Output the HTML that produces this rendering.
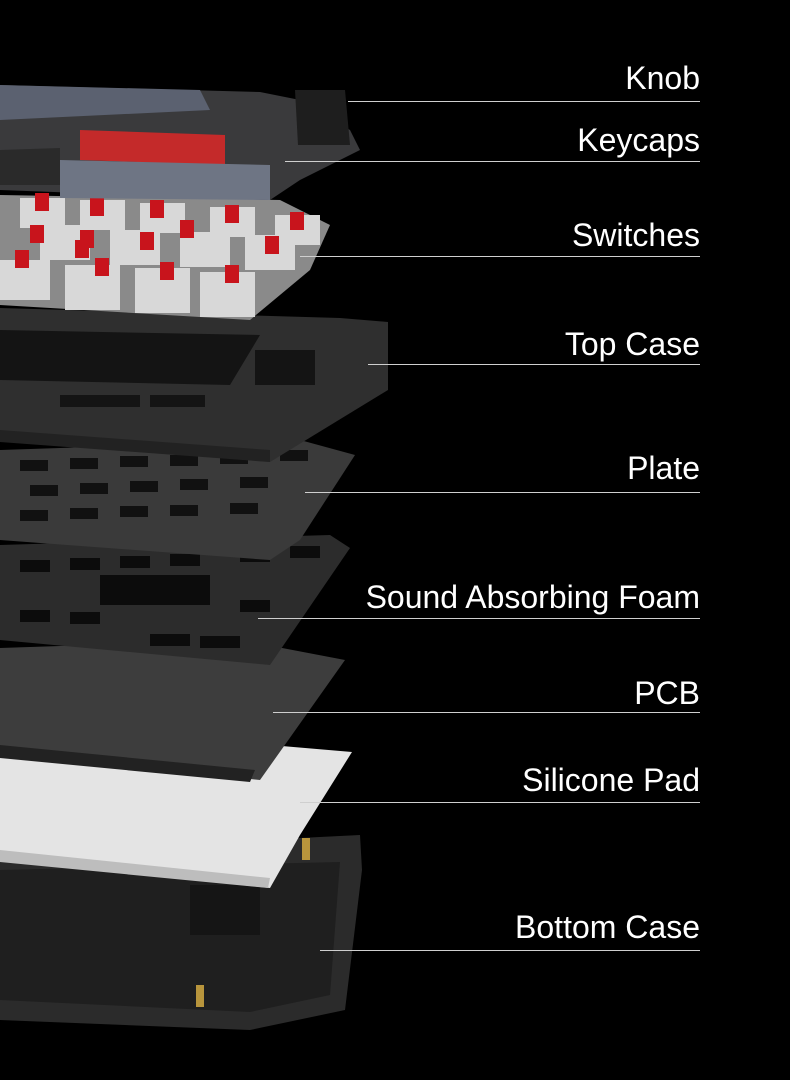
<!DOCTYPE html>
<html><head><style>
html,body{margin:0;padding:0;background:#000;}
.w{position:relative;width:790px;height:1080px;overflow:hidden;background:#000;font-family:"Liberation Sans",sans-serif;}
.l{position:absolute;right:90px;color:#fff;font-size:32px;line-height:32px;white-space:nowrap;}
.ln{position:absolute;height:1px;background:#cfcfcf;}
</style></head><body><div class="w">
<svg width="790" height="1080" style="position:absolute;left:0;top:0">
<!-- bottom case -->
<polygon points="0,845 300,838 360,835 362,870 345,1010 250,1030 0,1020" fill="#2b2b2b"/>
<polygon points="0,870 340,862 330,995 250,1012 0,1000" fill="#1f1f1f"/>
<rect x="190" y="885" width="70" height="50" fill="#151515"/>
<rect x="302" y="838" width="8" height="22" fill="#b8953c"/>
<rect x="196" y="985" width="8" height="22" fill="#b8953c"/>
<!-- silicone pad -->
<polygon points="0,755 270,745 352,752 300,835 270,888 0,860" fill="#e4e4e4"/>
<polygon points="0,850 270,878 268,888 0,862" fill="#bdbdbd"/>
<!-- PCB -->
<polygon points="0,648 240,640 345,660 260,780 0,752" fill="#3d3d3d"/>
<polygon points="0,745 255,770 250,782 0,758" fill="#222"/>
<!-- foam -->
<polygon points="0,545 330,535 350,548 270,665 0,640" fill="#2c2c2c"/>
<g fill="#0c0c0c">
<rect x="20" y="560" width="30" height="12"/><rect x="70" y="558" width="30" height="12"/><rect x="120" y="556" width="30" height="12"/><rect x="170" y="554" width="30" height="12"/><rect x="240" y="550" width="30" height="12"/><rect x="290" y="546" width="30" height="12"/>
<rect x="100" y="575" width="110" height="30"/>
<rect x="20" y="610" width="30" height="12"/><rect x="70" y="612" width="30" height="12"/><rect x="150" y="634" width="40" height="12"/><rect x="200" y="636" width="40" height="12"/><rect x="240" y="600" width="30" height="12"/>
</g>
<!-- plate -->
<polygon points="0,450 300,440 355,455 300,540 270,560 0,540" fill="#3a3a3a"/>
<g fill="#111">
<rect x="20" y="460" width="28" height="11"/><rect x="70" y="458" width="28" height="11"/><rect x="120" y="456" width="28" height="11"/><rect x="170" y="455" width="28" height="11"/><rect x="220" y="453" width="28" height="11"/><rect x="280" y="450" width="28" height="11"/>
<rect x="30" y="485" width="28" height="11"/><rect x="80" y="483" width="28" height="11"/><rect x="130" y="481" width="28" height="11"/><rect x="180" y="479" width="28" height="11"/><rect x="240" y="477" width="28" height="11"/>
<rect x="20" y="510" width="28" height="11"/><rect x="70" y="508" width="28" height="11"/><rect x="120" y="506" width="28" height="11"/><rect x="170" y="505" width="28" height="11"/><rect x="230" y="503" width="28" height="11"/>
</g>
<!-- top case -->
<polygon points="0,308 340,318 388,322 388,390 270,462 0,440" fill="#2f2f2f"/>
<polygon points="0,330 260,335 230,385 0,380" fill="#141414"/>
<rect x="255" y="350" width="60" height="35" fill="#141414"/>
<rect x="60" y="395" width="80" height="12" fill="#141414"/><rect x="150" y="395" width="55" height="12" fill="#141414"/>
<polygon points="0,430 270,450 270,462 0,442" fill="#222"/>
<!-- switches -->
<polygon points="0,195 280,200 330,225 310,270 250,320 0,305" fill="#8a8a8a"/>
<g fill="#d8d8d8">
<rect x="0" y="260" width="50" height="40"/><rect x="65" y="265" width="55" height="45"/><rect x="135" y="268" width="55" height="45"/><rect x="200" y="272" width="55" height="45"/>
<rect x="40" y="225" width="50" height="35"/><rect x="110" y="230" width="50" height="35"/><rect x="180" y="232" width="50" height="35"/><rect x="245" y="235" width="50" height="35"/>
<rect x="20" y="198" width="45" height="30"/><rect x="80" y="200" width="45" height="30"/><rect x="140" y="203" width="45" height="30"/><rect x="210" y="207" width="45" height="30"/><rect x="275" y="215" width="45" height="30"/>
</g>
<g fill="#c8141c">
<rect x="35" y="193" width="14" height="18"/><rect x="90" y="198" width="14" height="18"/><rect x="150" y="200" width="14" height="18"/><rect x="225" y="205" width="14" height="18"/><rect x="290" y="212" width="14" height="18"/>
<rect x="30" y="225" width="14" height="18"/><rect x="80" y="230" width="14" height="18"/><rect x="140" y="232" width="14" height="18"/><rect x="180" y="220" width="14" height="18"/><rect x="265" y="236" width="14" height="18"/>
<rect x="15" y="250" width="14" height="18"/><rect x="75" y="240" width="14" height="18"/><rect x="95" y="258" width="14" height="18"/><rect x="160" y="262" width="14" height="18"/><rect x="225" y="265" width="14" height="18"/>
</g>
<!-- keycaps -->
<polygon points="0,85 260,92 300,100 350,130 360,150 300,180 270,200 0,190" fill="#3a3a3c"/>
<polygon points="0,85 200,90 210,110 0,120" fill="#5b6170"/>
<polygon points="80,130 225,135 225,165 80,160" fill="#c42a2a"/>
<polygon points="60,160 270,165 270,200 60,198" fill="#6e7584"/>
<polygon points="0,150 60,148 60,185 0,185" fill="#2a2a2a"/>
<polygon points="295,90 345,90 350,145 298,145" fill="#1e1e1e"/>
</svg>
<div class="l" style="top:62px">Knob</div><div class="ln" style="top:101px;left:348px;width:352px"></div>
<div class="l" style="top:124px">Keycaps</div><div class="ln" style="top:161px;left:285px;width:415px"></div>
<div class="l" style="top:219px">Switches</div><div class="ln" style="top:256px;left:300px;width:400px"></div>
<div class="l" style="top:328px">Top Case</div><div class="ln" style="top:364px;left:368px;width:332px"></div>
<div class="l" style="top:452px">Plate</div><div class="ln" style="top:492px;left:305px;width:395px"></div>
<div class="l" style="top:581px">Sound Absorbing Foam</div><div class="ln" style="top:618px;left:258px;width:442px"></div>
<div class="l" style="top:677px">PCB</div><div class="ln" style="top:712px;left:273px;width:427px"></div>
<div class="l" style="top:764px">Silicone Pad</div><div class="ln" style="top:802px;left:300px;width:400px"></div>
<div class="l" style="top:911px">Bottom Case</div><div class="ln" style="top:950px;left:320px;width:380px"></div>
</div></body></html>
